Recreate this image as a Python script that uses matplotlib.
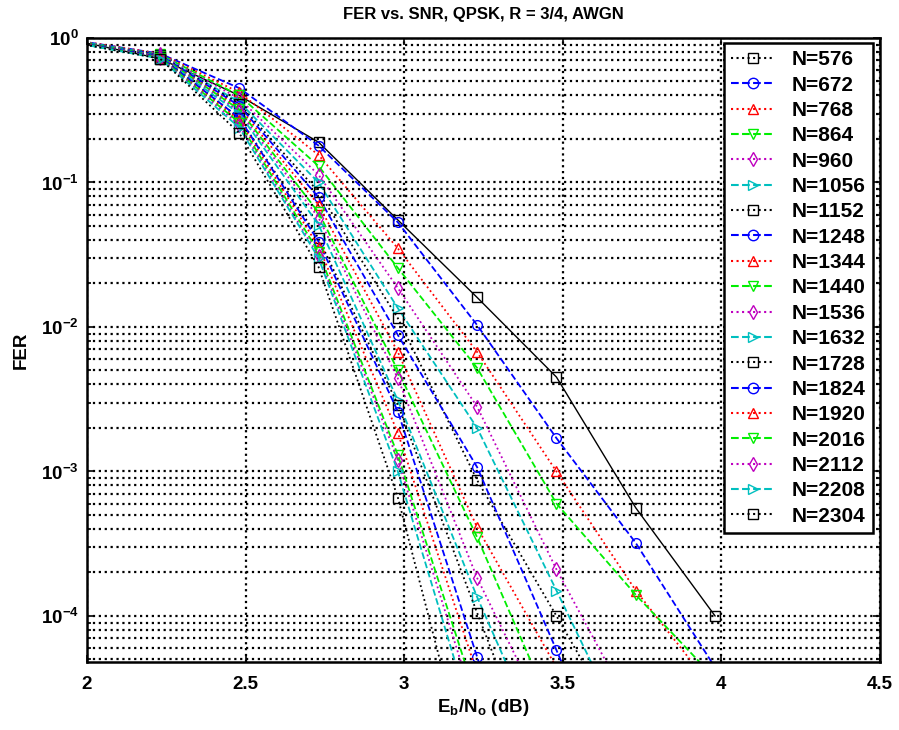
import matplotlib
matplotlib.use("Agg")
import matplotlib.pyplot as plt
from matplotlib.lines import Line2D
from matplotlib.ticker import LogLocator, FixedLocator, NullLocator, FormatStrFormatter
import numpy as np

plt.rcParams['font.family'] = ['Liberation Sans', 'DejaVu Sans']
plt.rcParams['font.weight'] = 'bold'
plt.rcParams['mathtext.fontset'] = 'custom'
plt.rcParams['mathtext.rm'] = 'Liberation Sans:bold'
plt.rcParams['mathtext.it'] = 'Liberation Sans:bold'
plt.rcParams['mathtext.bf'] = 'Liberation Sans:bold'
plt.rcParams['axes.unicode_minus'] = False

ebno = [1.98, 2.23, 2.48, 2.73, 2.98, 3.23, 3.48, 3.73, 3.98]
block_sizes = [576, 672, 768, 864, 960, 1056, 1152, 1248, 1344, 1440,
               1536, 1632, 1728, 1824, 1920, 2016, 2112, 2208, 2304]

fer_576 = [0.94, 0.72, 0.40, 0.19, 0.055, 0.016, 0.0045, 5.6e-4, 1.0e-4]
fer_672 = [0.95, 0.78, 0.45, 0.18, 0.053, 0.0103, 0.0017, 3.2e-4, 4.4e-5]
fer_768 = [0.95, 0.78, 0.42, 0.155, 0.035, 0.0067, 0.0010, 1.5e-4, 3.0e-5]
fer_864 = [0.94, 0.77, 0.40, 0.13, 0.0256, 0.0052, 6.0e-4, 1.4e-4, 3.7e-5]
fer_960 = [0.94, 0.77, 0.38, 0.113, 0.0186, 0.0028, 2.1e-4, 2.0e-5]
fer_1056 = [0.94, 0.76, 0.36, 0.10, 0.0135, 0.0020, 1.5e-4, 1.1e-5]
fer_1152 = [0.93, 0.76, 0.35, 0.086, 0.0115, 8.7e-4, 1.0e-4, 1.1e-5]
fer_1248 = [0.93, 0.76, 0.34, 0.079, 0.0088, 1.07e-3, 5.8e-5, 3e-6]
fer_1344 = [0.93, 0.75, 0.33, 0.070, 0.0067, 4.1e-4, 4.4e-5]
fer_1440 = [0.93, 0.75, 0.32, 0.062, 0.0050, 3.5e-4, 1.9e-5]
fer_1536 = [0.92, 0.75, 0.31, 0.057, 0.0044, 1.83e-4, 1.4e-5]
fer_1632 = [0.92, 0.74, 0.30, 0.051, 0.0031, 1.35e-4, 7.6e-6]
fer_1728 = [0.92, 0.74, 0.28, 0.041, 0.0029, 1.05e-4, 4e-6]
fer_1824 = [0.92, 0.74, 0.28, 0.039, 0.0026, 5.2e-5, 1e-6]
fer_1920 = [0.92, 0.73, 0.27, 0.036, 0.00185, 4.0e-5]
fer_2016 = [0.91, 0.73, 0.26, 0.033, 0.0013, 2.6e-5]
fer_2112 = [0.91, 0.73, 0.25, 0.031, 0.0012, 2.1e-5]
fer_2208 = [0.91, 0.72, 0.24, 0.030, 0.0010, 1.5e-5]
fer_2304 = [0.91, 0.72, 0.22, 0.026, 0.00066, 5e-6]

series = [fer_576, fer_672, fer_768, fer_864, fer_960, fer_1056, fer_1152,
          fer_1248, fer_1344, fer_1440, fer_1536, fer_1632, fer_1728,
          fer_1824, fer_1920, fer_2016, fer_2112, fer_2208, fer_2304]

x_ticks = [2, 2.5, 3, 3.5, 4, 4.5]

colors = ['k', 'b', 'r', '#00ee00', 'm', 'c']
styles = [':', '--', ':', '--', ':', '--']
markers = ['s', 'o', '^', 'v', 'd', '>']

fig = plt.figure(figsize=(8.99, 7.30), dpi=100)
ax = fig.add_axes([87/899, 1 - 662/730, (880-87)/899, (662-38)/730])

handles = []
for i, (n, vals) in enumerate(zip(block_sizes, series)):
    c = colors[i % 6]
    ls = styles[i % 6]
    mk = markers[i % 6]
    plot_ls = '-' if i == 0 else ls
    ax.plot(ebno[:len(vals)], vals, linestyle=plot_ls, color=c,
            lw=1.0 if i == 0 else 1.3,
            marker=mk, markersize=7, markerfacecolor='none',
            markeredgecolor=c, markeredgewidth=1.0, clip_on=True)
    handles.append(Line2D([], [], linestyle=ls, color=c, lw=1.5, marker=mk,
                          markersize=7.5, markerfacecolor='none',
                          markeredgecolor=c, markeredgewidth=1.0,
                          label=f'N={n}'))

ax.set_yscale('log')
ax.set_xlim(2, 4.5)
ax.set_ylim(4.8e-5, 1)
ax.xaxis.set_major_locator(FixedLocator(x_ticks))
ax.xaxis.set_major_formatter(FormatStrFormatter('%g'))
ax.xaxis.set_minor_locator(NullLocator())
ax.yaxis.set_major_locator(LogLocator(base=10, numticks=10))
ax.yaxis.set_minor_locator(LogLocator(base=10, subs=np.arange(2, 10), numticks=20))

ax.grid(True, which='major', axis='both', color='k', linestyle=':', lw=1.6)
ax.grid(True, which='minor', axis='y', color='k', linestyle=':', lw=1.6)

ax.tick_params(which='both', direction='in', top=True, right=True,
               labelsize=13.5, width=1.2)
ax.tick_params(which='major', length=5)
ax.tick_params(which='minor', length=3)
ax.tick_params(axis='x', pad=10)
ax.tick_params(axis='y', pad=6)
for lab in ax.get_xticklabels() + ax.get_yticklabels():
    lab.set_fontweight('bold')
for s in ax.spines.values():
    s.set_linewidth(1.8)

ax.set_title('FER vs. SNR, QPSK, R = 3/4, AWGN', fontsize=12,
             fontweight='bold', pad=14)
ax.set_xlabel('E$_\\mathregular{b}$/N$_\\mathregular{o}$ (dB)', fontsize=13.5,
              fontweight='bold', labelpad=3)
ax.set_ylabel('FER', fontsize=13.5, fontweight='bold', labelpad=8)

leg = ax.legend(handles=handles, loc='upper right',
                bbox_to_anchor=(1 - 7/793, 1 - 5/624),
                prop={'weight': 'bold', 'size': 15}, handlelength=2.1,
                handletextpad=0.8, labelspacing=0.305, borderpad=0.35,
                borderaxespad=0, fancybox=False, framealpha=1, edgecolor='k')
leg.get_frame().set_linewidth(1.8)

fig.savefig('out.png', dpi=100)
